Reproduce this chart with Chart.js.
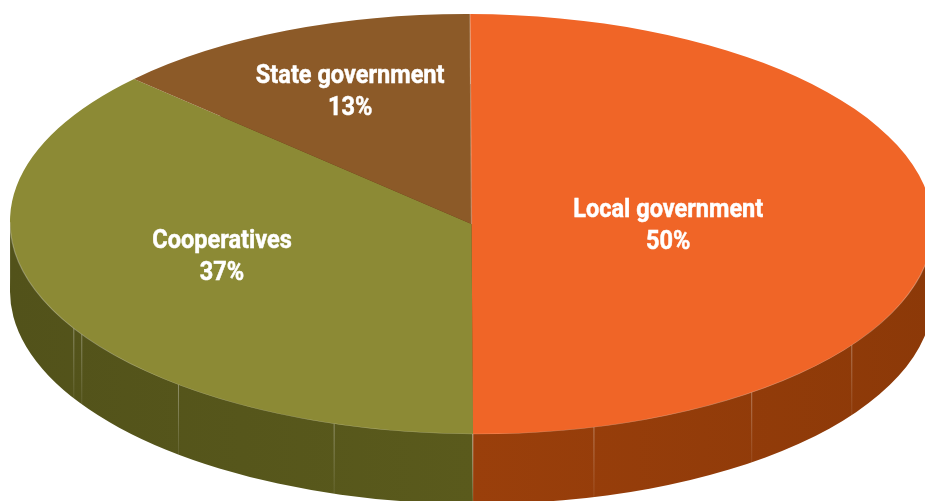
<!DOCTYPE html>
<html>
<head>
<meta charset="utf-8">
<title>Ownership share</title>
<script src="https://cdn.jsdelivr.net/npm/chart.js@4/dist/chart.umd.min.js"></script>
<style>
  html, body { margin: 0; padding: 0; background: #fff; overflow: hidden; }
  #frame { width: 925px; height: 501px; overflow: hidden; }
  canvas { display: block; }
</style>
</head>
<body>
<div id="frame"><canvas id="pie" width="950" height="950"></canvas></div>
<script>
var categories = ['Local government', 'Cooperatives', 'State government'];
var shares = [50, 37, 13];
var topColors = ['#f06527', '#8c8a35', '#8c5a28'];
// side wall shade at the left and right end of the pie
var wallLeft = ['#a8450e', '#52521a', '#5c3816'];
var wallRight = ['#8c3908', '#62621e', '#5c3816'];

// where the side wall shows a facet joint, degrees clockwise from 12 o'clock
var seamAngles = [124.7, 142.8, 164.8, 180, 197.5, 219.6, 237.8, 239.7];
// nudge of each label from the middle of its slice
var labelShift = [[-34, 2], [-38, -8], [-29, -35]];

// the square pie gets tilted into an ellipse, leaning slightly to the right
var tilt = { b: 0.004, c: 0.00325, d: 0.455, cx: 471.5, cy: 224, depth: 70 };
var rimColor = 'rgba(255,255,255,0.3)';

function applyTilt(ctx, chart) {
    var arc = chart.getDatasetMeta(0).data[0];
    ctx.transform(1, tilt.b, tilt.c, tilt.d,
        tilt.cx - arc.x - tilt.c * arc.y,
        tilt.cy - tilt.b * arc.x - tilt.d * arc.y);
}

function xRange(arc) {
    var lo = arc.x, hi = arc.x;
    for (var s = 0; s <= 60; s++) {
        var a = arc.startAngle + (arc.endAngle - arc.startAngle) * s / 60;
        var x = arc.x + arc.outerRadius * Math.cos(a);
        lo = Math.min(lo, x);
        hi = Math.max(hi, x);
    }
    return [lo, hi];
}

var tiltedPie = {
    id: 'tiltedPie',
    beforeDatasetsDraw: function(chart) {
        var ctx = chart.ctx;
        var arcs = chart.getDatasetMeta(0).data;

        // side wall: each arc pushed down by the depth, plus the band up to the rim
        arcs.forEach(function(arc, i) {
            var shade = ctx.createLinearGradient(arc.x - arc.outerRadius, 0, arc.x + arc.outerRadius, 0);
            shade.addColorStop(0, wallLeft[i]);
            shade.addColorStop(1, wallRight[i]);
            var layer = Object.create(arc);
            layer.options = Object.assign({}, arc.options, { backgroundColor: shade });
            var range = xRange(arc);
            ctx.save();
            ctx.translate(0, tilt.depth);
            applyTilt(ctx, chart);
            layer.draw(ctx);
            ctx.restore();
            ctx.save();
            // keeps the lean but no sideways shear, the band lines up with the wall's vertical ends
            ctx.transform(1, tilt.b, 0, 1, tilt.cx - arc.x, tilt.cy - tilt.b * arc.x - arc.y);
            ctx.fillStyle = shade;
            ctx.fillRect(range[0], arc.y, range[1] - range[0], tilt.depth);
            ctx.restore();
        });

        // thin joints on the wall
        var first = arcs[0];
        seamAngles.forEach(function(deg) {
            var a = deg * Math.PI / 180;
            var y = first.outerRadius * -Math.cos(a);
            var x = first.outerRadius * Math.sin(a);
            var sx = tilt.cx + x + tilt.c * y;
            var sy = tilt.cy + tilt.b * x + tilt.d * y;
            var line = ctx.createLinearGradient(0, sy, 0, sy + tilt.depth);
            line.addColorStop(0, 'rgba(255,255,255,0.34)');
            line.addColorStop(1, 'rgba(255,255,255,0.08)');
            ctx.save();
            ctx.strokeStyle = line;
            ctx.lineWidth = 1;
            ctx.beginPath();
            ctx.moveTo(sx, sy);
            ctx.lineTo(sx, sy + tilt.depth);
            ctx.stroke();
            ctx.restore();
        });

        ctx.save();
        applyTilt(ctx, chart);
    },
    afterDatasetsDraw: function(chart) {
        var ctx = chart.ctx;
        var arc = chart.getDatasetMeta(0).data[0];
        // pale line along the front rim and the seam at 12 o'clock
        ctx.strokeStyle = rimColor;
        ctx.lineWidth = 1.2;
        ctx.beginPath();
        ctx.arc(arc.x, arc.y, arc.outerRadius, 0, Math.PI);
        ctx.stroke();
        ctx.beginPath();
        ctx.moveTo(arc.x, arc.y);
        ctx.lineTo(arc.x, arc.y - arc.outerRadius);
        ctx.stroke();
        ctx.restore();
    },
    afterDraw: function(chart) {
        var ctx = chart.ctx;
        var arcs = chart.getDatasetMeta(0).data;
        ctx.save();
        ctx.fillStyle = '#fff';
        ctx.strokeStyle = '#fff';
        ctx.lineWidth = 0.5;
        ctx.textAlign = 'center';
        ctx.textBaseline = 'middle';
        ctx.font = 'bold 26px Roboto';
        arcs.forEach(function(arc, i) {
            var p = arc.tooltipPosition();
            var x = tilt.cx + (p.x - arc.x) + tilt.c * (p.y - arc.y) + labelShift[i][0];
            var y = tilt.cy + tilt.d * (p.y - arc.y) + labelShift[i][1];
            [categories[i], shares[i] + '%'].forEach(function(text, n) {
                ctx.save();
                ctx.translate(x, y - 16 + n * 32);
                ctx.scale(0.905, 1);
                ctx.fillText(text, 0, 0);
                ctx.strokeText(text, 0, 0);
                ctx.restore();
            });
        });
        ctx.restore();
    }
};

new Chart(document.getElementById('pie'), {
    type: 'pie',
    data: {
        labels: categories,
        datasets: [{
            data: shares,
            backgroundColor: topColors,
            borderWidth: 0,
            clip: false
        }]
    },
    options: {
        responsive: false,
        animation: false,
        layout: { padding: 13.5 },
        plugins: {
            legend: { display: false },
            tooltip: { enabled: false }
        }
    },
    plugins: [tiltedPie]
});
</script>
</body>
</html>
